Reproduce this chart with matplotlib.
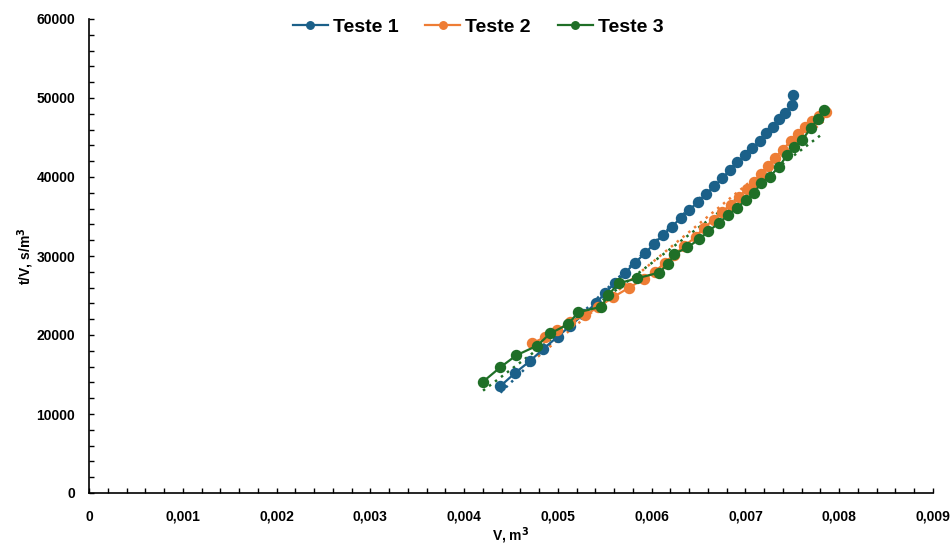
"""Ensaio de filtração: t/V em função do volume de filtrado para três testes."""

from __future__ import annotations

import matplotlib

matplotlib.use("Agg")
import matplotlib.pyplot as plt
from matplotlib.ticker import FuncFormatter, MultipleLocator
import numpy as np

# volume de filtrado (m3) e t/V (s/m3)
volume_teste1 = [0.004388, 0.004547, 0.004707, 0.004846, 0.004998, 0.005133, 0.005272,
                 0.005407, 0.005506, 0.005612, 0.005719, 0.005822, 0.005929, 0.006021,
                 0.006117, 0.006216, 0.006308, 0.006400, 0.006493, 0.006578, 0.006670,
                 0.006755, 0.006834, 0.006912, 0.006997, 0.007075, 0.007153, 0.007217,
                 0.007295, 0.007359, 0.007423, 0.007494, 0.007508]
tv_teste1 = [13544, 15230, 16749, 18266, 19785, 21177, 22620, 24012, 25354, 26620, 27886,
             29152, 30342, 31481, 32620, 33709, 34806, 35823, 36835, 37848, 38860, 39873,
             40885, 41898, 42745, 43670, 44594, 45531, 46366, 47302, 48137, 49073, 50418]

volume_teste2 = [0.004725, 0.004867, 0.004995, 0.005133, 0.005293, 0.005432, 0.005592,
                 0.005753, 0.005913, 0.006031, 0.006137, 0.006233, 0.006350, 0.006468,
                 0.006553, 0.006660, 0.006745, 0.006841, 0.006927, 0.007012, 0.007086,
                 0.007161, 0.007236, 0.007310, 0.007396, 0.007481, 0.007556, 0.007631,
                 0.007705, 0.007780, 0.007855]
tv_teste2 = [18949, 19747, 20633, 21646, 22532, 23544, 24810, 25949, 27089, 27975, 29114,
             30127, 31266, 32405, 33544, 34557, 35570, 36456, 37468, 38481, 39367, 40380,
             41392, 42405, 43418, 44557, 45443, 46329, 47089, 47722, 48228]

volume_teste3 = [0.004202, 0.004386, 0.004557, 0.004778, 0.004920, 0.005109, 0.005216,
                 0.005464, 0.005536, 0.005649, 0.005845, 0.006076, 0.006176, 0.006243,
                 0.006382, 0.006507, 0.006606, 0.006713, 0.006809, 0.006913, 0.007001,
                 0.007090, 0.007161, 0.007260, 0.007357, 0.007446, 0.007517, 0.007606,
                 0.007695, 0.007773, 0.007837]
tv_teste3 = [14089, 15911, 17430, 18646, 20215, 21354, 22873, 23582, 25063, 26544, 27177,
             27886, 28987, 30253, 31101, 32114, 33165, 34114, 35127, 36101, 37089, 37937,
             39203, 40038, 41304, 42785, 43835, 44684, 46165, 47342, 48481]

series_names = ["Teste 1", "Teste 2", "Teste 3"]
series_colors = ["#1b6089", "#ee7d35", "#1f6f27"]


def _comma(value, _pos):
    """Formata o número com vírgula decimal."""

    if abs(value) < 1e-12:
        return "0"
    return f"{value:.3f}".replace(".", ",")


def create_filtration_plot():
    plt.rcParams["font.family"] = ["Liberation Sans", "DejaVu Sans"]
    plt.rcParams["font.weight"] = "bold"

    figure = plt.figure(figsize=(9.51, 5.47), dpi=100)
    axis = figure.add_axes([89 / 951, 54 / 547, 844 / 951, 474 / 547])

    data = [
        (volume_teste1, tv_teste1),
        (volume_teste2, tv_teste2),
        (volume_teste3, tv_teste3),
    ]
    handles = []
    for (volumes, values), name, color in zip(data, series_names, series_colors):
        volumes = np.asarray(volumes)
        values = np.asarray(values)
        (line,) = axis.plot(volumes, values, color=color, linewidth=1.6, marker="o",
                            markersize=7.2, label=name, zorder=3)
        handles.append(line)
        # linha de tendência linear (pontilhada)
        slope, intercept = np.polyfit(volumes, values, 1)
        fit_x = np.array([volumes.min(), volumes.max()])
        axis.plot(fit_x, slope * fit_x + intercept, color=color, linestyle=(0, (1, 2)),
                  linewidth=1.8, zorder=2)

    axis.set_xlim(0, 0.009)
    axis.set_ylim(0, 60000)
    axis.xaxis.set_major_locator(MultipleLocator(0.001))
    axis.xaxis.set_minor_locator(MultipleLocator(0.0002))
    axis.yaxis.set_major_locator(MultipleLocator(10000))
    axis.yaxis.set_minor_locator(MultipleLocator(2000))
    axis.xaxis.set_major_formatter(FuncFormatter(_comma))

    for side in ("top", "right"):
        axis.spines[side].set_visible(False)
    for side in ("left", "bottom"):
        axis.spines[side].set_linewidth(1.2)
        axis.spines[side].set_color("black")

    axis.tick_params(axis="both", which="both", direction="in", length=3.5, width=1,
                     labelsize=10)
    axis.tick_params(axis="x", which="major", pad=12)
    axis.tick_params(axis="y", which="major", pad=10)

    axis.set_xlabel("V, m$^\\mathbf{3}$", fontsize=10, fontweight="bold", labelpad=1)
    axis.set_ylabel("t/V, s/m$^\\mathbf{3}$", fontsize=10, fontweight="bold", labelpad=0)

    axis.legend(handles=handles, loc="center", bbox_to_anchor=(0.461, 0.983), ncol=3,
                frameon=False, prop={"size": 14, "weight": "bold"}, handlelength=1.8,
                handletextpad=0.25, columnspacing=1.4, markerscale=0.75)
    return figure


if __name__ == "__main__":
    fig = create_filtration_plot()
    fig.savefig("out.png", dpi=100)
